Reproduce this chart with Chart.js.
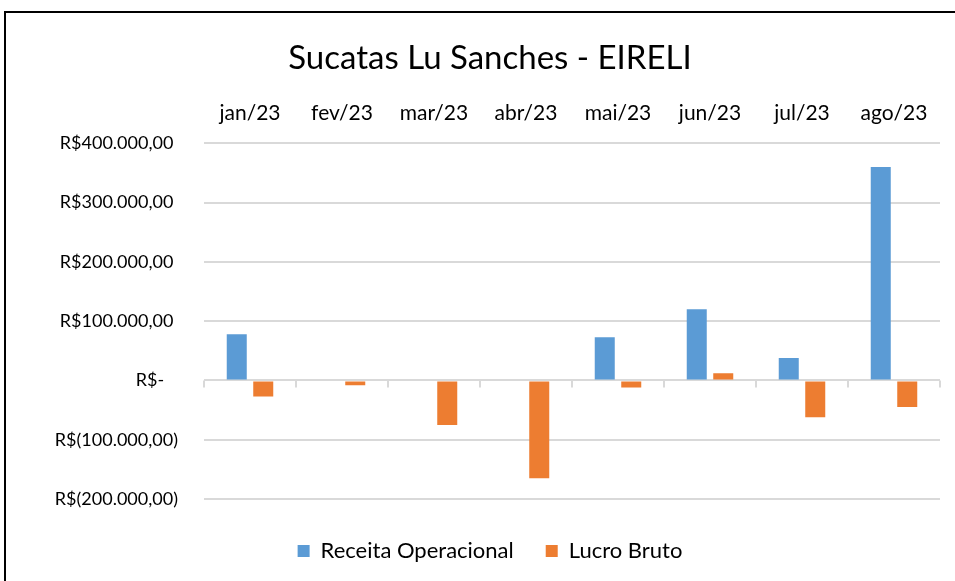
<!DOCTYPE html>
<html>
<head>
<meta charset="utf-8">
<script src="https://cdn.jsdelivr.net/npm/chart.js@4/dist/chart.umd.min.js"></script>
<style>
  body { margin: 0; background: #fff; }
  #wrap { position: relative; width: 955px; height: 581px; overflow: hidden; }
  #frame { position: absolute; left: 4px; top: 11px; width: 1000px; height: 1000px; border: 2px solid #000; pointer-events: none; }
</style>
</head>
<body>
<div id="wrap">
  <canvas id="grafico" width="955" height="581"></canvas>
  <div id="frame"></div>
</div>
<script>
const titulo = 'Sucatas Lu Sanches - EIRELI';
const meses = ['jan/23', 'fev/23', 'mar/23', 'abr/23', 'mai/23', 'jun/23', 'jul/23', 'ago/23'];
const receitaOperacional = [78000, 0, 0, 0, 73000, 120000, 38000, 360000];
const lucroBruto = [-27000, -8000, -75000, -165000, -12000, 12000, -62000, -45000];
const eixoMin = -200000;
const eixoMax = 400000;
const eixoPasso = 100000;

const fonte = 'Lato, "Liberation Sans", sans-serif';

function formatarReal(valor) {
    if (valor === 0) {
        return 'R$-   ';
    }
    const abs = Math.abs(valor);
    const inteiro = Math.floor(abs).toString().replace(/\B(?=(\d{3})+(?!\d))/g, '.');
    const texto = inteiro + ',00';
    return valor < 0 ? `R$(${texto})` : `R$${texto} `;
}

// small marks under the zero line, between the months
const marcasZero = {
    id: 'marcasZero',
    beforeDatasetsDraw(chart) {
        const { ctx, chartArea, scales } = chart;
        const x = scales.x;
        const y0 = scales.y.getPixelForValue(0);
        ctx.save();
        ctx.strokeStyle = '#d9d9d9';
        ctx.lineWidth = 2;
        ctx.beginPath();
        for (let i = 0; i <= meses.length; i++) {
            let px;
            if (i === 0) px = chartArea.left;
            else if (i === meses.length) px = chartArea.right;
            else px = (x.getPixelForValue(i - 1) + x.getPixelForValue(i)) / 2;
            px = Math.round(px);
            ctx.moveTo(px, y0);
            ctx.lineTo(px, y0 + 7);
        }
        ctx.stroke();
        ctx.restore();
    }
};

new Chart(document.getElementById('grafico').getContext('2d'), {
    type: 'bar',
    data: {
        labels: meses,
        datasets: [{
            label: 'Receita Operacional',
            data: receitaOperacional,
            backgroundColor: '#5b9bd5',
            borderWidth: 0,
            categoryPercentage: 0.576,
            barPercentage: 0.755
        }, {
            label: 'Lucro Bruto',
            data: lucroBruto,
            backgroundColor: '#ed7d31',
            borderWidth: 0,
            categoryPercentage: 0.576,
            barPercentage: 0.755
        }]
    },
    options: {
        responsive: false,
        animation: false,
        layout: { padding: { left: 40, right: 15, top: 20, bottom: 9 } },
        plugins: {
            title: {
                display: true,
                text: titulo,
                color: '#000',
                font: { family: fonte, size: 33, weight: 'normal', lineHeight: 1.1 },
                padding: { top: 20, bottom: 10 }
            },
            legend: {
                position: 'bottom',
                title: {
                    display: true,
                    text: ' ',
                    font: { size: 9, lineHeight: 1 },
                    padding: 0
                },
                labels: {
                    color: '#000',
                    font: { family: fonte, size: 22 },
                    boxWidth: 12,
                    boxHeight: 12,
                    padding: 32
                }
            },
            tooltip: { enabled: false }
        },
        scales: {
            x: {
                position: 'top',
                grid: { display: false, drawTicks: false },
                border: { display: false },
                ticks: {
                    color: '#000',
                    font: { family: fonte, size: 21 },
                    padding: 17,
                    maxRotation: 0
                },
                afterFit: s => { s.height = 57; }
            },
            y: {
                min: eixoMin,
                max: eixoMax,
                grid: { color: '#d9d9d9', lineWidth: 2, drawTicks: false },
                border: { display: false },
                ticks: {
                    stepSize: eixoPasso,
                    color: '#000',
                    font: { family: fonte, size: 18 },
                    padding: 26,
                    callback: v => formatarReal(v)
                },
                afterFit: s => { s.width = 164; }
            }
        }
    },
    plugins: [marcasZero]
});
</script>
</body>
</html>
